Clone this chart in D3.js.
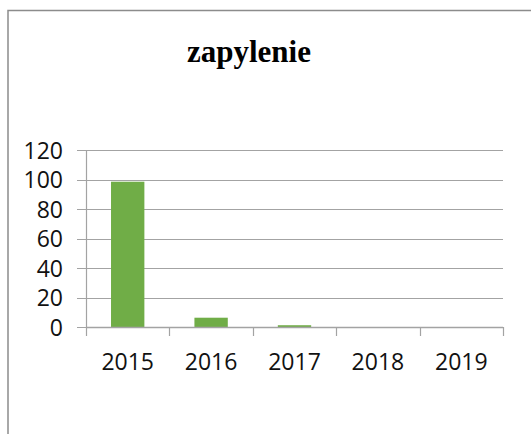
<!DOCTYPE html>
<html>
<head>
<meta charset="utf-8">
<script src="https://cdn.jsdelivr.net/npm/d3@7"></script>
<style>
html,body{margin:0;padding:0;background:#fff;}
svg{display:block;}
</style>
</head>
<body>
<svg id="chart" width="531" height="434"></svg>
<script>
const title = "zapylenie";
const categories = ["2015", "2016", "2017", "2018", "2019"];
const values = [98.5, 6.3, 1.2, 0, 0];
const yTicks = [0, 20, 40, 60, 80, 100, 120];

(function () {
const svg = d3.select("#chart");
const W = 531, H = 434;
svg.append("rect").attr("x", 0).attr("y", 0).attr("width", W).attr("height", H).attr("fill", "#fff");

// chart frame (only top and left visible)
svg.append("path")
  .attr("d", "M8,440 L8,10.5 L540,10.5")
  .attr("fill", "none").attr("stroke", "#8c8c8c").attr("stroke-width", 1.5);

const pLeft = 86, pRight = 503, pTop = 150, pBottom = 327;
const gridCol = "#a3a3a3";

const x = d3.scaleBand().domain(categories).range([pLeft, pRight]).paddingInner(0).paddingOuter(0);
const y = d3.scaleLinear().domain([0, 120]).range([pBottom, pTop]);

// gridlines
svg.append("g")
  .selectAll("line").data(yTicks).join("line")
  .attr("x1", pLeft - 9).attr("x2", pRight)
  .attr("y1", d => Math.round(y(d)) + 0.5).attr("y2", d => Math.round(y(d)) + 0.5)
  .attr("stroke", gridCol).attr("stroke-width", 1.2);

// y axis line
svg.append("line")
  .attr("x1", pLeft + 0.5).attr("x2", pLeft + 0.5)
  .attr("y1", pTop).attr("y2", pBottom + 0.5)
  .attr("stroke", gridCol).attr("stroke-width", 1.2);

// bars
const barW = x.bandwidth() * 0.4;
svg.append("g")
  .selectAll("rect").data(values).join("rect")
  .attr("x", (d, i) => x(categories[i]) + (x.bandwidth() - barW) / 2)
  .attr("width", barW)
  .attr("y", d => y(d))
  .attr("height", d => pBottom - y(d))
  .attr("fill", "#70ad47");

// x axis line & ticks
svg.append("line")
  .attr("x1", pLeft).attr("x2", pRight)
  .attr("y1", pBottom + 0.5).attr("y2", pBottom + 0.5)
  .attr("stroke", gridCol).attr("stroke-width", 1.5);
const tickXs = categories.map(c => x(c)).concat([pRight]);
svg.append("g")
  .selectAll("line").data(tickXs).join("line")
  .attr("x1", d => Math.round(d) + 0.5).attr("x2", d => Math.round(d) + 0.5)
  .attr("y1", pBottom).attr("y2", pBottom + 9)
  .attr("stroke", gridCol).attr("stroke-width", 1.2);

// y labels
svg.append("g")
  .selectAll("text").data(yTicks).join("text")
  .attr("x", 63).attr("y", d => y(d) + 8.5)
  .attr("text-anchor", "end")
  .attr("font-family", "'Open Sans', sans-serif").attr("font-size", 23)
  .attr("fill", "#111")
  .text(d => d);

// x labels
svg.append("g")
  .selectAll("text").data(categories).join("text")
  .attr("x", d => x(d) + x.bandwidth() / 2).attr("y", 370)
  .attr("text-anchor", "middle")
  .attr("font-family", "'Open Sans', sans-serif").attr("font-size", 23)
  .attr("fill", "#111")
  .text(d => d);

// title
svg.append("text")
  .attr("x", 249).attr("y", 62)
  .attr("text-anchor", "middle")
  .attr("font-family", "'Liberation Serif', 'Times New Roman', serif")
  .attr("font-weight", "bold").attr("font-size", 31)
  .attr("fill", "#000")
  .text(title);
})();
</script>
</body>
</html>
